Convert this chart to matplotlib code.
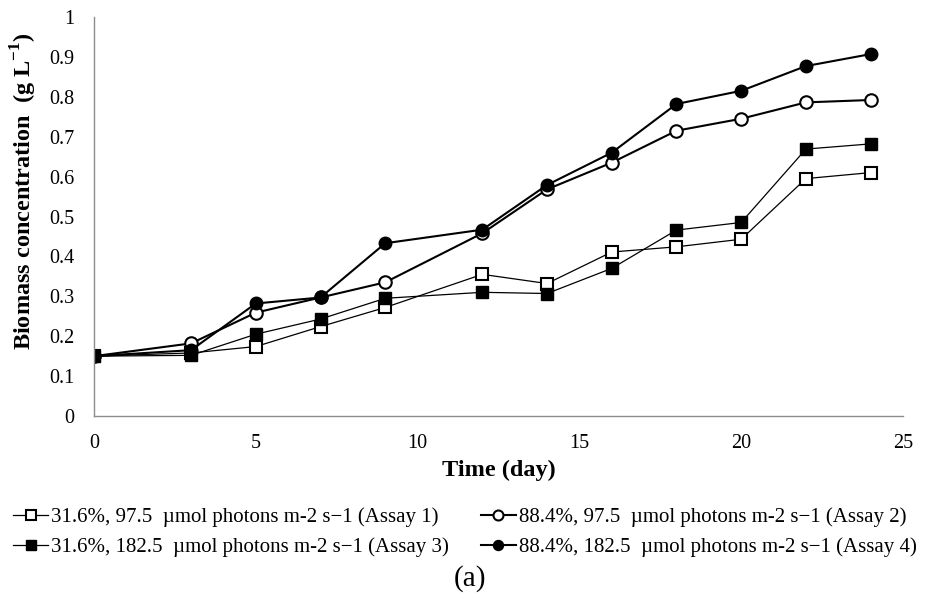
import matplotlib
matplotlib.use('Agg')
import matplotlib.pyplot as plt

# biomass growth over time for the four assays
days = [0, 3, 5, 7, 9, 12, 14, 16, 18, 20, 22, 24]
assay1 = [0.150, 0.158, 0.174, 0.224, 0.272, 0.355, 0.332, 0.411, 0.424, 0.443, 0.595, 0.610]
assay2 = [0.150, 0.182, 0.259, 0.297, 0.335, 0.458, 0.568, 0.635, 0.715, 0.745, 0.786, 0.792]
assay3 = [0.150, 0.152, 0.205, 0.243, 0.295, 0.310, 0.307, 0.370, 0.466, 0.485, 0.669, 0.682]
assay4 = [0.150, 0.165, 0.282, 0.297, 0.433, 0.467, 0.579, 0.660, 0.782, 0.815, 0.877, 0.907]

labels = [
    '31.6%, 97.5  \u00b5mol photons m-2 s\u22121 (Assay 1)',
    '88.4%, 97.5  \u00b5mol photons m-2 s\u22121 (Assay 2)',
    '31.6%, 182.5  \u00b5mol photons m-2 s\u22121 (Assay 3)',
    '88.4%, 182.5  \u00b5mol photons m-2 s\u22121 (Assay 4)',
]
x_ticks = [0, 5, 10, 15, 20, 25]
y_ticks = [0, 0.1, 0.2, 0.3, 0.4, 0.5, 0.6, 0.7, 0.8, 0.9, 1.0]
y_ticklabels = ['0', '0.1', '0.2', '0.3', '0.4', '0.5', '0.6', '0.7', '0.8', '0.9', '1']

AXIS = '#8c8c8c'

plt.rcParams.update({
    'font.family': 'Liberation Serif',
    'mathtext.fontset': 'custom',
    'mathtext.rm': 'Liberation Serif',
    'mathtext.bf': 'Liberation Serif:bold',
    'axes.spines.top': False,
    'axes.spines.right': False,
})

fig = plt.figure(figsize=(9.25, 5.96), dpi=100, facecolor='white')
ax = fig.add_axes([94 / 925, 1 - 416 / 596, 809 / 925, 399 / 596])

l1, = ax.plot(days, assay1, '-s', color='black', lw=0.9, ms=8.5,
              mfc='white', mec='black', mew=1.5, label=labels[0])
l3, = ax.plot(days, assay3, '-s', color='black', lw=0.9, ms=8.5,
              mfc='black', mec='black', label=labels[2])
l2, = ax.plot(days, assay2, '-o', color='black', lw=1.5, ms=9,
              mfc='white', mec='black', mew=1.5, label=labels[1])
l4, = ax.plot(days, assay4, '-o', color='black', lw=1.5, ms=9,
              mfc='black', mec='black', label=labels[3])

ax.set_xlim(0, 25)
ax.set_ylim(0, 1)
ax.set_xticks(x_ticks)
ax.set_yticks(y_ticks)
ax.set_yticklabels(y_ticklabels)
ax.tick_params(axis='both', length=0, labelsize=14.5)
ax.tick_params(axis='y', pad=14)
ax.tick_params(axis='x', pad=13)
for side in ('left', 'bottom'):
    ax.spines[side].set_color(AXIS)
    ax.spines[side].set_linewidth(1.0)

ax.set_xlabel('Time (day)', fontsize=17.5, fontweight='bold', va='center')
ax.xaxis.set_label_coords(0.5, -0.136)
ax.set_ylabel(r'Biomass concentration  (g L$^{\mathbf{-1}}$)', fontsize=17.5,
              fontweight='bold', va='center')
ax.yaxis.set_label_coords(-0.087, 0.563)

fig.legend(handles=[l1, l3, l2, l4], loc='center', ncol=2,
           bbox_to_anchor=(465 / 925, 1 - 532 / 596), frameon=False,
           fontsize=15, handlelength=1.7, handletextpad=0.15,
           columnspacing=1.5, labelspacing=0.5, markerscale=0.8)

fig.text(470 / 925, 1 - 579 / 596, '(a)', fontsize=21, ha='center', va='center')

fig.savefig('out.png', dpi=100, facecolor='white')
